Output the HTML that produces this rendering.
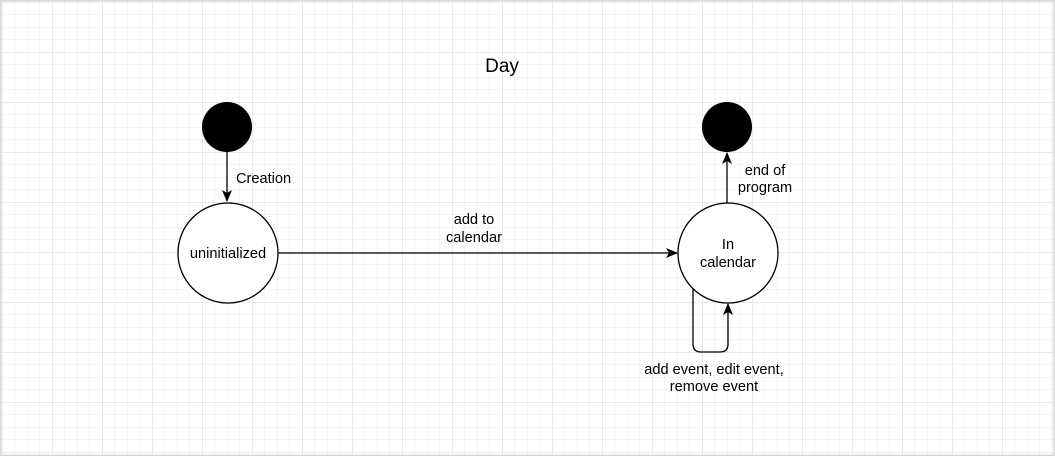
<!DOCTYPE html>
<html><head><style>
html,body{margin:0;padding:0;background:#fff}
svg{display:block}
text{font-family:"Liberation Sans",sans-serif;font-size:14.6px;fill:#000}
</style></head><body>
<svg width="1055" height="456" viewBox="0 0 1055 456" xmlns="http://www.w3.org/2000/svg">
<defs>
<pattern id="minor" x="2" y="2" width="12.5" height="12.5" patternUnits="userSpaceOnUse">
<path d="M0 0H12.5M0 0V12.5" stroke="#ebebeb" stroke-width="1" fill="none"/>
</pattern>
<pattern id="major" x="2" y="2" width="50" height="50" patternUnits="userSpaceOnUse">
<path d="M0 0H50M0 0V50" stroke="#d6d6d6" stroke-width="1" fill="none"/>
</pattern>
<marker id="a" markerWidth="14" markerHeight="14" refX="11" refY="6" orient="auto" markerUnits="userSpaceOnUse">
<path d="M0 1L12 6L0 11L3 6Z" fill="#000"/>
</marker>
</defs>
<rect width="1055" height="456" fill="url(#minor)"/>
<rect width="1055" height="456" fill="url(#major)"/>
<rect x="0.5" y="0.5" width="1054" height="455" fill="none" stroke="#d8d8d8" stroke-width="2"/>
<text x="502" y="72" text-anchor="middle" style="font-size:19px">Day</text>
<circle cx="227" cy="127" r="25" fill="#000"/>
<circle cx="727" cy="127" r="25" fill="#000"/>
<line x1="227" y1="152" x2="227" y2="201" stroke="#000" stroke-width="1.3" marker-end="url(#a)"/>
<text x="236" y="183">Creation</text>
<circle cx="228" cy="253" r="50" fill="#fff" stroke="#000" stroke-width="1.3"/>
<text x="228" y="258" text-anchor="middle">uninitialized</text>
<line x1="278" y1="253" x2="677" y2="253" stroke="#000" stroke-width="1.3" marker-end="url(#a)"/>
<text x="474" y="224" text-anchor="middle">add to</text>
<text x="474" y="242" text-anchor="middle">calendar</text>
<circle cx="728" cy="253" r="50" fill="#fff" stroke="#000" stroke-width="1.3"/>
<text x="728" y="249" text-anchor="middle">In</text>
<text x="728" y="267" text-anchor="middle">calendar</text>
<line x1="727" y1="203" x2="727" y2="153" stroke="#000" stroke-width="1.3" marker-end="url(#a)"/>
<text x="765" y="175" text-anchor="middle">end of</text>
<text x="765" y="192" text-anchor="middle">program</text>
<path d="M693 288V344Q693 352 701 352H720Q728 352 728 344V304" fill="none" stroke="#000" stroke-width="1.3" marker-end="url(#a)"/>
<text x="714" y="374" text-anchor="middle">add event, edit event,</text>
<text x="714" y="391" text-anchor="middle">remove event</text>
</svg>
</body></html>
